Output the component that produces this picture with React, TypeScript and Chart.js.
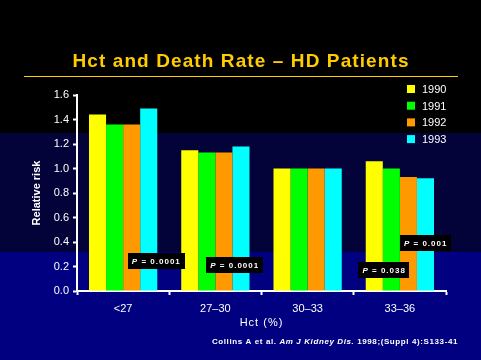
import React, { useEffect, useRef } from "react";
import { Chart, registerables } from "chart.js";

Chart.register(...registerables);

const categories = ["<27", "27–30", "30–33", "33–36"];
const years = ["1990", "1991", "1992", "1993"];
const v1990 = [1.44, 1.15, 1.0, 1.06];
const v1991 = [1.36, 1.13, 1.0, 1.0];
const v1992 = [1.36, 1.13, 1.0, 0.93];
const v1993 = [1.49, 1.18, 1.0, 0.92];
const yTicks = [0, 0.2, 0.4, 0.6, 0.8, 1.0, 1.2, 1.4, 1.6];
const pValues = ["0.0001", "0.0001", "0.038", "0.001"];

const titleText = "Hct and Death Rate – HD Patients";
const yTitle = "Relative risk";
const xTitle = "Hct (%)";
const citeA = "Collins A et al. ";
const citeB = "Am J Kidney Dis.";
const citeC = " 1998;(Suppl 4):S133-41";

const colors = ["#FFFF00", "#00FF00", "#FF9900", "#00FFFF"];
const FONT = "'Liberation Sans', Arial, sans-serif";

// annotation anchor positions (category-index units, value units)
const pAnchorX = [0.36, 1.21, 2.83, 3.28];
const pAnchorY = [0.245, 0.21, 0.17, 0.39];

const decorPlugin = {
  id: "decor",
  beforeDraw(chart: any) {
    const ctx = chart.ctx;
    const w = chart.width;
    const h = chart.height;
    ctx.save();
    ctx.fillStyle = "#000000";
    ctx.fillRect(0, 0, w, 133);
    ctx.fillStyle = "#03033a";
    ctx.fillRect(0, 133, w, 119);
    ctx.fillStyle = "#000080";
    ctx.fillRect(0, 252, w, h - 252);
    ctx.restore();
  },
  afterDraw(chart: any) {
    const ctx = chart.ctx;
    const xs = chart.scales.x;
    const ys = chart.scales.y;
    ctx.save();
    // title
    ctx.fillStyle = "#FFCC00";
    ctx.font = `bold 19px ${FONT}`;
    (ctx as any).letterSpacing = "1.1px";
    ctx.textAlign = "center";
    ctx.textBaseline = "alphabetic";
    ctx.fillText(titleText, 241, 67);
    (ctx as any).letterSpacing = "0px";
    ctx.strokeStyle = "#FFCC00";
    ctx.lineWidth = 1;
    ctx.beginPath();
    ctx.moveTo(24, 76.5);
    ctx.lineTo(458, 76.5);
    ctx.stroke();

    // legend
    ctx.font = `11px ${FONT}`;
    ctx.textAlign = "left";
    ctx.textBaseline = "middle";
    chart.data.datasets.forEach((ds: any, i: number) => {
      const cy = 90 + i * 16.7;
      ctx.fillStyle = ds.backgroundColor;
      ctx.fillRect(407, cy - 5, 8, 8);
      ctx.fillStyle = "#FFFFFF";
      ctx.fillText(ds.label, 422, cy);
    });

    // y title
    ctx.save();
    ctx.translate(37, (ys.top + ys.bottom) / 2);
    ctx.rotate(-Math.PI / 2);
    ctx.font = `bold 11px ${FONT}`;
    ctx.fillStyle = "#FFFFFF";
    ctx.textAlign = "center";
    ctx.textBaseline = "middle";
    ctx.fillText(yTitle, 0, 0);
    ctx.restore();

    // x title
    ctx.font = `11px ${FONT}`;
    (ctx as any).letterSpacing = "1px";
    ctx.fillStyle = "#FFFFFF";
    ctx.textAlign = "center";
    ctx.textBaseline = "middle";
    ctx.fillText(xTitle, (xs.left + xs.right) / 2, 323);

    // citation
    (ctx as any).letterSpacing = "0.6px";
    ctx.textAlign = "left";
    const fA = `bold 8px ${FONT}`;
    const fB = `italic bold 8px ${FONT}`;
    ctx.font = fA;
    const wA = ctx.measureText(citeA).width;
    ctx.font = fB;
    const wB = ctx.measureText(citeB).width;
    ctx.font = fA;
    const wC = ctx.measureText(citeC).width;
    let cx = 458 - (wA + wB + wC);
    ctx.font = fA;
    ctx.fillText(citeA, cx, 342);
    cx += wA;
    ctx.font = fB;
    ctx.fillText(citeB, cx, 342);
    cx += wB;
    ctx.font = fA;
    ctx.fillText(citeC, cx, 342);
    (ctx as any).letterSpacing = "0px";

    // p-value boxes
    const step = xs.getPixelForValue(1) - xs.getPixelForValue(0);
    pValues.forEach((p, i) => {
      const px = xs.getPixelForValue(0) + pAnchorX[i] * step;
      const py = ys.getPixelForValue(pAnchorY[i]);
      ctx.font = `bold 8px ${FONT}`;
      (ctx as any).letterSpacing = "1px";
      const restW = ctx.measureText(" = " + p).width;
      ctx.font = `italic bold 8px ${FONT}`;
      const pW = ctx.measureText("P").width;
      const tw = pW + restW;
      const bw = tw + 8;
      const bh = 16;
      ctx.fillStyle = "#000000";
      ctx.fillRect(Math.round(px - bw / 2), Math.round(py - bh / 2), Math.round(bw), bh);
      ctx.fillStyle = "#FFFFFF";
      ctx.textAlign = "left";
      ctx.textBaseline = "middle";
      const tx = px - tw / 2;
      ctx.fillText("P", tx, py + 0.5);
      ctx.font = `bold 8px ${FONT}`;
      ctx.fillText(" = " + p, tx + pW, py + 0.5);
      (ctx as any).letterSpacing = "0px";
    });
    ctx.restore();
  },
};

export default function App() {
  const ref = useRef<HTMLCanvasElement>(null);
  useEffect(() => {
    if (!ref.current) return;
    const series = [v1990, v1991, v1992, v1993];
    const chart = new Chart(ref.current, {
      type: "bar",
      data: {
        labels: categories,
        datasets: years.map((y, i) => ({
          label: y,
          data: series[i],
          backgroundColor: colors[i],
          borderWidth: 0,
          categoryPercentage: 0.74,
          barPercentage: 1.0,
        })),
      },
      options: {
        animation: false,
        responsive: false,
        devicePixelRatio: 1,
        layout: { padding: { top: 95, right: 35, left: 0, bottom: 0 } },
        plugins: {
          legend: { display: false },
          tooltip: { enabled: false },
          title: { display: false },
        },
        scales: {
          x: {
            grid: {
              drawOnChartArea: false,
              drawTicks: true,
              tickLength: 4,
              tickWidth: 2,
              color: "#FFFFFF",
              offset: true,
            },
            border: { color: "#FFFFFF", width: 2 },
            ticks: {
              color: "#FFFFFF",
              font: { family: FONT, size: 11 },
              padding: 7,
              maxRotation: 0,
            },
            afterFit: (s: any) => {
              s.height = 69;
            },
          },
          y: {
            min: 0,
            max: 1.6,
            afterBuildTicks: (s: any) => {
              s.ticks = yTicks.map((v) => ({ value: v }));
            },
            grid: {
              drawOnChartArea: false,
              drawTicks: true,
              tickLength: 4,
              tickWidth: 2,
              color: "#FFFFFF",
            },
            border: { color: "#FFFFFF", width: 2 },
            ticks: {
              color: "#FFFFFF",
              font: { family: FONT, size: 11 },
              padding: 4,
              callback: (v: any) => Number(v).toFixed(1),
            },
            afterFit: (s: any) => {
              s.width = 77;
            },
          },
        },
      },
      plugins: [decorPlugin],
    });
    return () => chart.destroy();
  }, []);
  return (
    <div style={{ position: "fixed", left: 0, top: 0, width: 481, height: 360 }}>
      <canvas ref={ref} width={481} height={360} style={{ display: "block" }} />
    </div>
  );
}
